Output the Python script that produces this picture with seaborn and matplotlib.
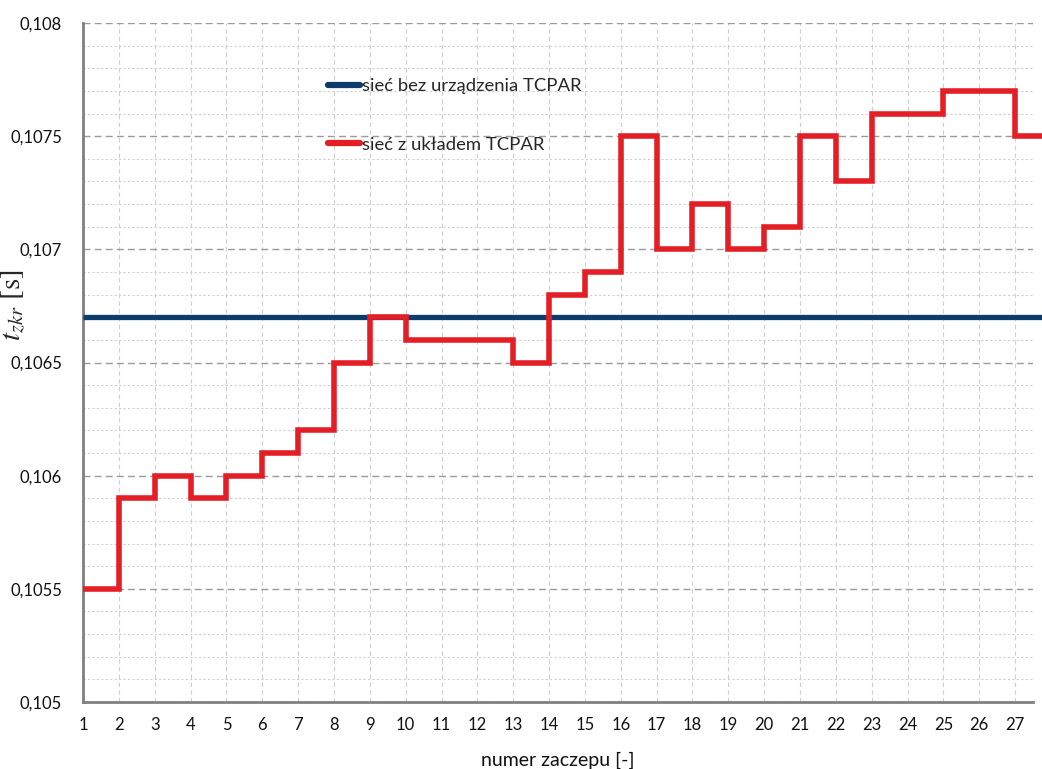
import numpy as np
import pandas as pd
import matplotlib
matplotlib.use("Agg")
import matplotlib.pyplot as plt
from matplotlib.ticker import MultipleLocator, FuncFormatter
import seaborn as sns

# tap positions and short-circuit clearing times
taps = list(range(1, 28))
t_with_tcpar = [0.1055, 0.1059, 0.1060, 0.1059, 0.1060, 0.1061, 0.1062, 0.1065, 0.1067,
                0.1066, 0.1066, 0.1066, 0.1065, 0.1068, 0.1069, 0.1075, 0.1070, 0.1072,
                0.1070, 0.1071, 0.1075, 0.1073, 0.1076, 0.1076, 0.1077, 0.1077, 0.1075]
t_without_tcpar = 0.1067

label_without = "sieć bez urządzenia TCPAR"
label_with = "sieć z układem TCPAR"

sns.set_style("white")
plt.rcParams["font.family"] = ["Lato", "DejaVu Sans"]
plt.rcParams["mathtext.fontset"] = "stix"

fig = plt.figure(figsize=(10.42, 7.69), dpi=100)
ax = fig.add_axes([0.0797, 0.0871, 0.9117, 0.8830])

# last step is carried a little past the final tap
x_end = 27.75
xs = taps + [x_end]
df = pd.DataFrame({
    "tap": xs,
    "with": t_with_tcpar + [t_with_tcpar[-1]],
    "without": [t_without_tcpar] * len(xs),
})

blue = "#0B3C6B"
red = "#E31E24"
sns.lineplot(data=df, x="tap", y="without", ax=ax, color=blue, linewidth=3.8,
             label=label_without, clip_on=False, solid_capstyle="butt", zorder=4)
sns.lineplot(data=df, x="tap", y="with", ax=ax, color=red, linewidth=4.0,
             drawstyle="steps-post", label=label_with, clip_on=False,
             solid_capstyle="butt", solid_joinstyle="miter", zorder=5)

ax.set_xlim(1, 27.5)
ax.set_ylim(0.105, 0.108)
ax.xaxis.set_major_locator(MultipleLocator(1))
ax.yaxis.set_major_locator(MultipleLocator(0.0005))
ax.yaxis.set_minor_locator(MultipleLocator(0.0001))

def pl_fmt(v, pos):
    s = f"{v:.4f}".rstrip("0")
    return s.replace(".", ",")

ax.yaxis.set_major_formatter(FuncFormatter(pl_fmt))

ax.grid(True, which="major", axis="y", color="#9a9a9a", linestyle=(0, (5, 3)), linewidth=1.0)
ax.grid(True, which="minor", axis="y", color="#cfcfcf", linestyle=(0, (2, 2)), linewidth=0.8)
ax.grid(True, which="major", axis="x", color="#cfcfcf", linestyle=(0, (4, 3)), linewidth=0.8)

for side in ["top", "right"]:
    ax.spines[side].set_visible(False)
for side in ["left", "bottom"]:
    ax.spines[side].set_color("#808080")
    ax.spines[side].set_linewidth(2.0)

ax.tick_params(axis="both", which="major", direction="out", length=5, width=1.2,
               color="#808080", labelsize=12, labelcolor="#111111")
ax.tick_params(axis="y", which="minor", length=0)
ax.tick_params(axis="y", pad=10)
ax.tick_params(axis="x", pad=6)

ax.set_xlabel("numer zaczepu [-]", fontsize=14, color="#111111", labelpad=13)
ax.set_ylabel(r"$t_{zkr}$ [s]", fontsize=21, family="STIXGeneral")
ax.yaxis.set_label_coords(-0.058, 0.585)

leg = ax.legend(loc="upper left", bbox_to_anchor=(0.24, 0.943), frameon=False,
                fontsize=13.3, handlelength=1.75, handletextpad=0.1, labelspacing=2.3)
for h in leg.get_lines():
    h.set_linewidth(4.5)
    h.set_solid_capstyle("round")

fig.savefig("out.png", dpi=100)
